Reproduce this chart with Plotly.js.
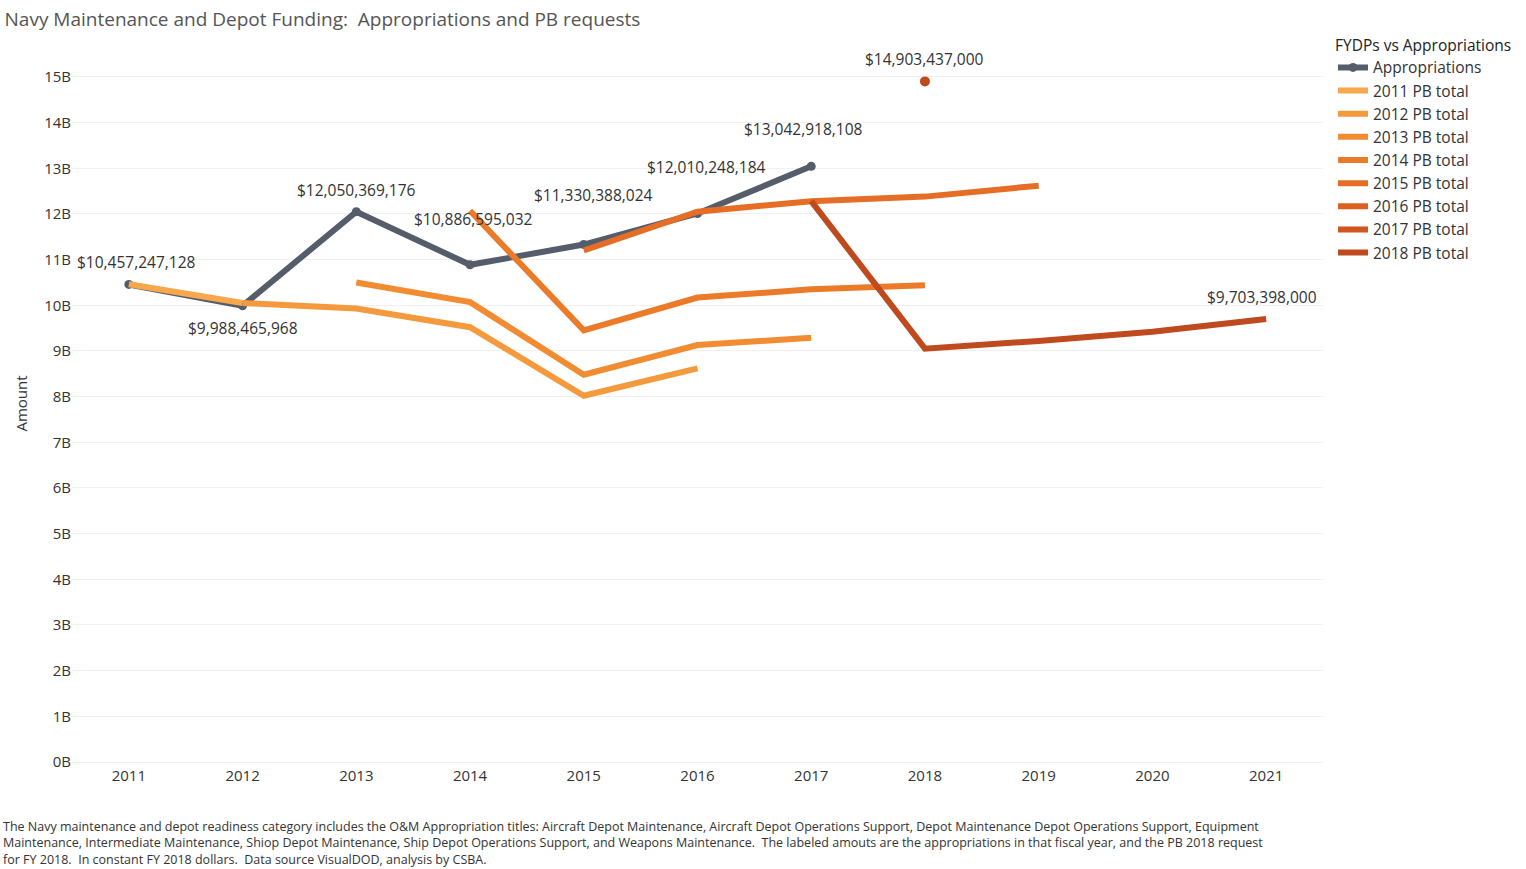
<!DOCTYPE html>
<html>
<head>
<meta charset="utf-8">
<script src="https://cdn.plot.ly/plotly-3.0.1.min.js"></script>
<style>body{margin:0;background:#fff;font-family:"Open Sans",sans-serif;}#chart{width:1526px;height:869px;}</style>
</head>
<body>
<div id="chart"></div>
<script>
// Appropriations (exact labeled values, dollars)
const apprYears = [2011, 2012, 2013, 2014, 2015, 2016, 2017];
const apprValues = [10457247128, 9988465968, 12050369176, 10886595032, 11330388024, 12010248184, 13042918108];
const pb2018Point = { year: 2018, value: 14903437000 };

// PB request series (billions)
const pbSeries = [
    { name: '2011 PB total', color: '#f7a84c', years: [2011, 2012], values: [10.46, 10.05] },
    { name: '2012 PB total', color: '#f59a3c', years: [2012, 2013, 2014, 2015, 2016], values: [10.05, 9.93, 9.52, 8.02, 8.62] },
    { name: '2013 PB total', color: '#f28c32', years: [2013, 2014, 2015, 2016, 2017], values: [10.5, 10.07, 8.48, 9.13, 9.29] },
    { name: '2014 PB total', color: '#ec7b29', years: [2014, 2015, 2016, 2017, 2018], values: [12.07, 9.45, 10.17, 10.35, 10.44] },
    { name: '2015 PB total', color: '#e66d25', years: [2015, 2016, 2017, 2018, 2019], values: [11.2, 12.05, 12.28, 12.38, 12.62] },
    { name: '2016 PB total', color: '#dd6022', years: [2016], values: [null] },
    { name: '2017 PB total', color: '#d0561f', years: [2017], values: [null] },
    { name: '2018 PB total', color: '#bf4a1e', years: [2017, 2018, 2019, 2020, 2021], values: [12.28, 9.05, 9.22, 9.42, 9.70] },
];
const lastLabel = { year: 2021, value: 9703398000 };

const yTicks = [0, 1, 2, 3, 4, 5, 6, 7, 8, 9, 10, 11, 12, 13, 14, 15];
const xTicks = [2011, 2012, 2013, 2014, 2015, 2016, 2017, 2018, 2019, 2020, 2021];

const money = v => '$' + v.toLocaleString('en-US');
const BLUE = '#555d6b';

const traces = pbSeries.map(s => ({
    x: s.years, y: s.values, name: s.name, type: 'scatter', mode: 'lines',
    line: { color: s.color, width: 6 }, connectgaps: false,
}));
traces.push({
    x: [pb2018Point.year], y: [pb2018Point.value / 1e9], type: 'scatter', mode: 'markers',
    marker: { color: '#bf4a1e', size: 10 }, showlegend: false,
});
traces.unshift({
    x: apprYears, y: apprValues.map(v => v / 1e9), name: 'Appropriations', type: 'scatter',
    mode: 'lines+markers', line: { color: BLUE, width: 6 }, marker: { color: BLUE, size: 9 },
});

// label offsets (px): [x, up]
const labelOffsets = [[8, 22], [0, -22], [0, 22], [3, 46], [10, 50], [9, 47], [-8, 37]];
const annotations = apprYears.map((yr, i) => ({
    x: yr, y: apprValues[i] / 1e9, text: money(apprValues[i]), showarrow: false,
    xshift: labelOffsets[i][0], yshift: labelOffsets[i][1],
    font: { size: 15.5, color: '#333' },
}));
annotations.push({ x: pb2018Point.year, y: pb2018Point.value / 1e9, text: money(pb2018Point.value), showarrow: false, yshift: 22, font: { size: 15.5, color: '#333' } });
annotations.push({ x: lastLabel.year, y: lastLabel.value / 1e9, text: money(lastLabel.value), showarrow: false, xshift: -4, yshift: 22, font: { size: 15.5, color: '#333' } });
annotations.push({
    xref: 'paper', yref: 'paper', x: -0.057, y: -0.075, xanchor: 'left', yanchor: 'top', align: 'left', showarrow: false,
    font: { size: 12.5, color: '#333' },
    text: 'The Navy maintenance and depot readiness category includes the O&M Appropriation titles: Aircraft Depot Maintenance, Aircraft Depot Operations Support, Depot Maintenance Depot Operations Support, Equipment<br>Maintenance, Intermediate Maintenance, Shiop Depot Maintenance, Ship Depot Operations Support, and Weapons Maintenance.  The labeled amouts are the appropriations in that fiscal year, and the PB 2018 request<br>for FY 2018.  In constant FY 2018 dollars.  Data source VisualDOD, analysis by CSBA.',
});

const layout = {
    width: 1526, height: 869,
    margin: { l: 72, r: 200, t: 45, b: 107 },
    paper_bgcolor: '#fff', plot_bgcolor: '#fff',
    font: { family: '"Open Sans", sans-serif', color: '#333' },
    title: { text: 'Navy Maintenance and Depot Funding:  Appropriations and PB requests', x: 0.003, xanchor: 'left', y: 0.985, font: { size: 19, color: '#555' } },
    xaxis: { range: [2010.5, 2021.5], tickvals: xTicks, ticktext: xTicks.map(String), showgrid: false, zeroline: false, tickfont: { size: 15 }, ticks: '', showline: true, linecolor: '#eee' },
    yaxis: { range: [0, 15.7], tickvals: yTicks, ticktext: yTicks.map(v => v + 'B'), gridcolor: '#f0f0f0', zeroline: false, tickfont: { size: 15 }, title: { text: 'Amount', font: { size: 15 }, standoff: 12 } },
    legend: { x: 1.008, y: 1.02, xanchor: 'left', yanchor: 'top', font: { size: 15.5 }, itemwidth: 30, title: { text: 'FYDPs vs Appropriations', font: { size: 15.5, color: '#222' } }, tracegroupgap: 0 },
    annotations,
};

Plotly.newPlot('chart', traces, layout, { displayModeBar: false });
</script>
</body>
</html>
